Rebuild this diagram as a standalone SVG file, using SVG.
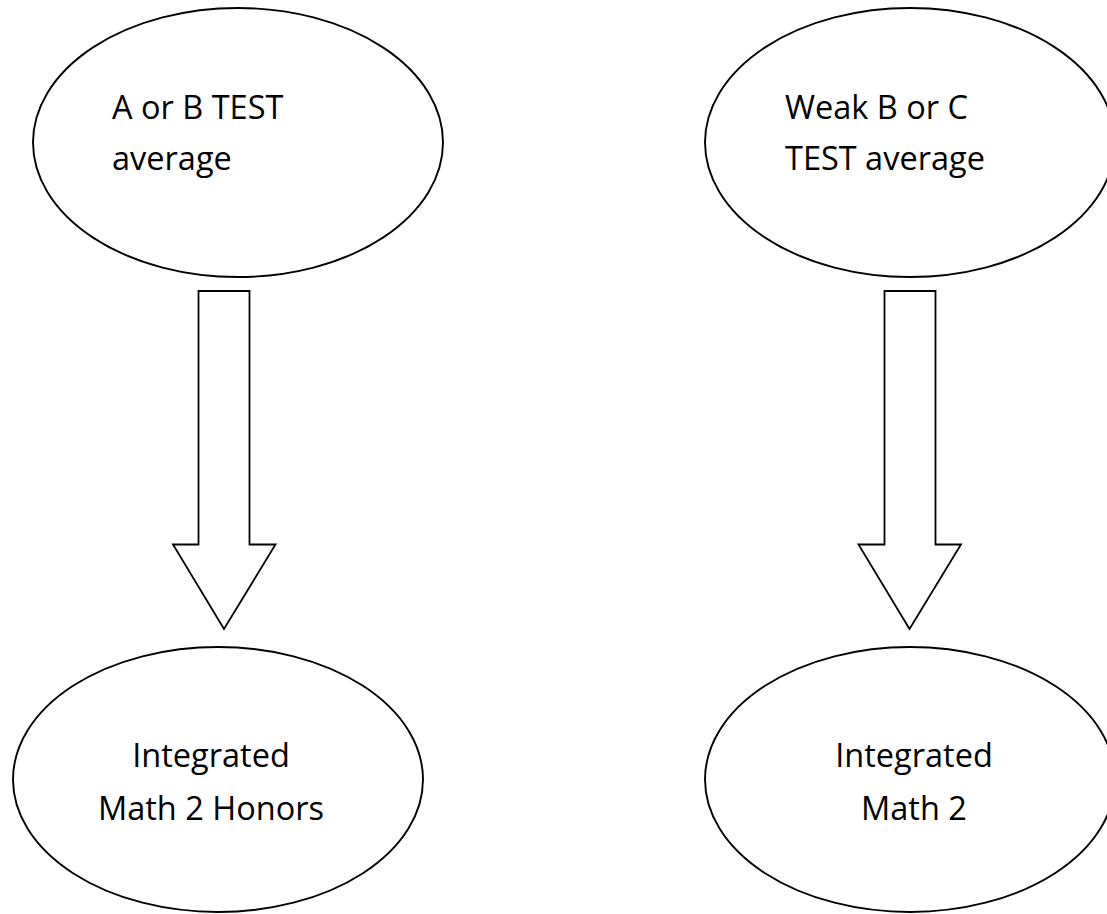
<svg xmlns="http://www.w3.org/2000/svg" width="1107" height="914" viewBox="0 0 1107 914">
<style>
.node ellipse{fill:#fff;stroke:#000;stroke-width:1.9}
.lbl{font-family:"Open Sans","Liberation Sans",sans-serif;font-size:32.5px;fill:#000}
.arrow{fill:#fff;stroke:#000;stroke-width:1.8;stroke-linejoin:miter}
</style>
<rect width="1107" height="914" fill="#fff"/>
<g id="n1" class="node">
<ellipse cx="238" cy="142.5" rx="205" ry="134.5"/>
<text class="lbl" x="112" y="119">A or B TEST</text>
<text class="lbl" x="112" y="170">average</text>
</g>
<g id="n2" class="node">
<ellipse cx="910" cy="142.5" rx="205" ry="134.5"/>
<text class="lbl" x="785" y="119">Weak B or C</text>
<text class="lbl" x="785" y="170">TEST average</text>
</g>
<g id="n3" class="node">
<ellipse cx="218" cy="779.5" rx="205" ry="132.5"/>
<text class="lbl" x="211" y="767" text-anchor="middle">Integrated</text>
<text class="lbl" x="211" y="820" text-anchor="middle">Math 2 Honors</text>
</g>
<g id="n4" class="node">
<ellipse cx="910" cy="779.5" rx="205" ry="132.5"/>
<text class="lbl" x="914" y="767" text-anchor="middle">Integrated</text>
<text class="lbl" x="914" y="820" text-anchor="middle">Math 2</text>
</g>
<g id="connectors">
<path class="arrow" d="M198.5,291 H249.5 V544.5 H275.5 L224,629 L173,544.5 H198.5 Z"/>
<path class="arrow" d="M884.5,291 H935.5 V544.5 H961 L909.5,629 L858.5,544.5 H884.5 Z"/>
</g>
</svg>
